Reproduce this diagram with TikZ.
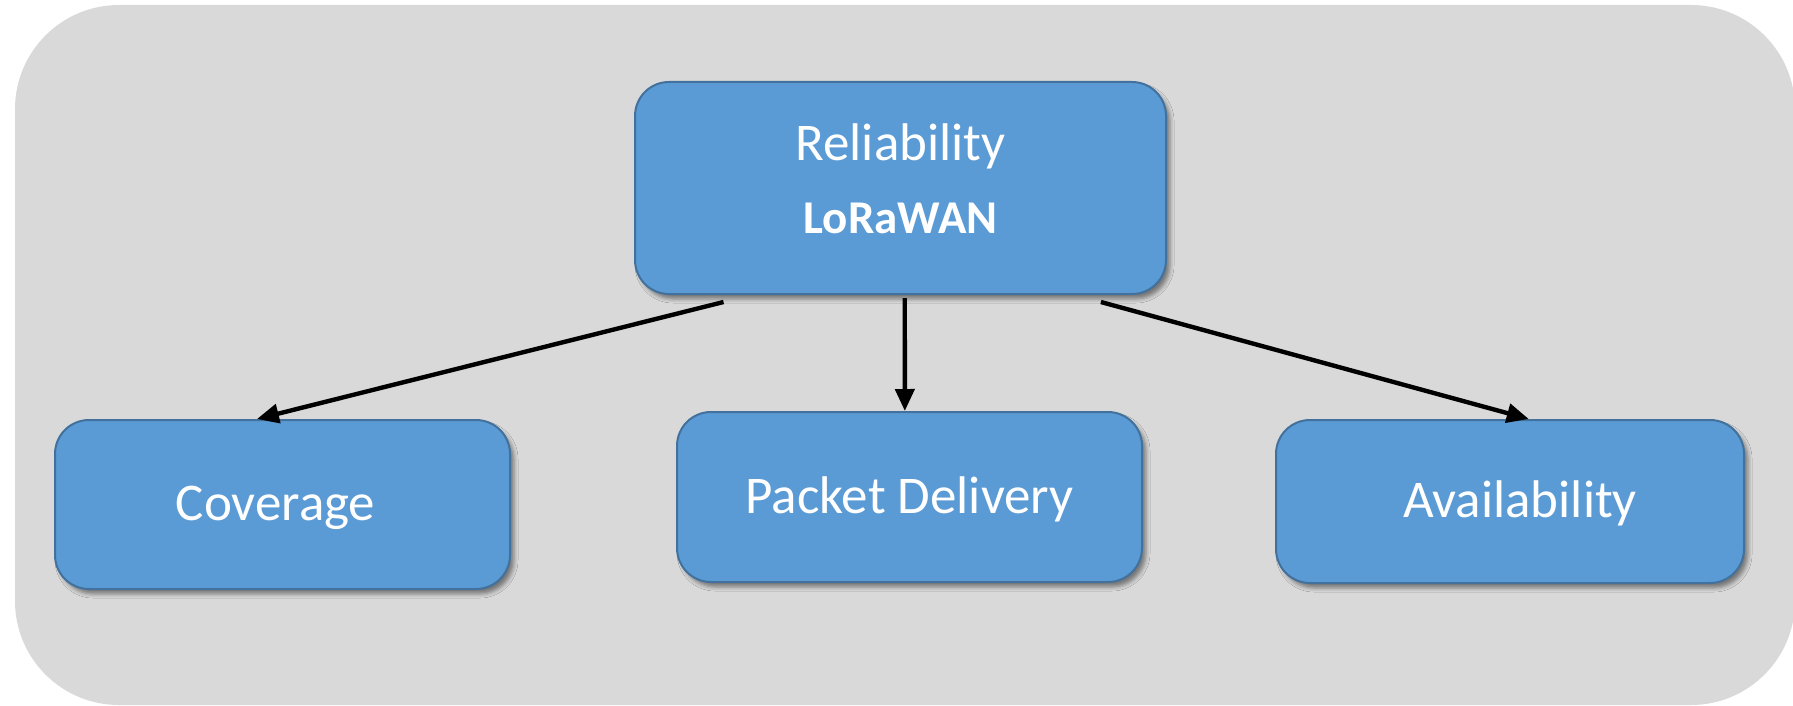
\documentclass[tikz,border=0pt]{standalone}
\usepackage{fontspec}
\setmainfont{Carlito}
\usetikzlibrary{arrows.meta,shadows.blur,calc}

\definecolor{panelgray}{HTML}{D9D9D9}
\definecolor{boxblue}{HTML}{5B9BD5}
\definecolor{boxedge}{HTML}{41719C}

\tikzset{
  blockbox/.style={
    draw=boxedge, line width=1pt, fill=boxblue,
    rounded corners=17pt, text=white, align=center,
    inner sep=0pt,
    blur shadow={shadow xshift=2pt, shadow yshift=-2.5pt,
                 shadow blur radius=2pt, shadow opacity=45},
    font=\fontsize{26.5pt}{32pt}\selectfont
  },
  leafbox/.style={blockbox, text height=22pt, text depth=5.8pt},
  link/.style={line width=2.2pt, black,
    -{Triangle[length=11pt,width=9.5pt]}}
}

\begin{document}
\begin{tikzpicture}[x=0.5pt,y=-0.5pt]
  \useasboundingbox (0,0) rectangle (1793,706);

  % grey panel behind the whole chart
  \fill[panelgray, rounded corners=52pt] (15,5) rectangle (1795,705);

  % root and its three aspects
  \node[blockbox, minimum width=265.5pt, minimum height=106pt,
        text height=45pt, text depth=0pt] (rel) at (900.5,188)
    {Reliability\\[4pt]{\fontsize{23.5pt}{28pt}\selectfont\bfseries LoRaWAN}};
  \node[leafbox, minimum width=227.5pt, minimum height=84.5pt] (cov) at (282.5,504.5) {Coverage\hspace*{7pt}};
  \node[leafbox, minimum width=232.5pt, minimum height=85pt] (pkt) at (909.5,497) {Packet Delivery};
  \node[leafbox, minimum width=234pt, minimum height=81.5pt] (avl) at (1510,501.5) {\hspace*{10pt}Availability};

  % connectors
  \draw[link] ($(rel.south west)!0.168!(rel.south east)+(0,7)$) -- ($(cov.north west)!0.444!(cov.north east)$);
  \draw[link] ($(rel.south west)!0.508!(rel.south east)+(0,3)$) -- ($(pkt.north west)!0.49!(pkt.north east)$);
  \draw[link] ($(rel.south west)!0.876!(rel.south east)+(0,7)$) -- ($(avl.north west)!0.54!(avl.north east)$);
\end{tikzpicture}
\end{document}
